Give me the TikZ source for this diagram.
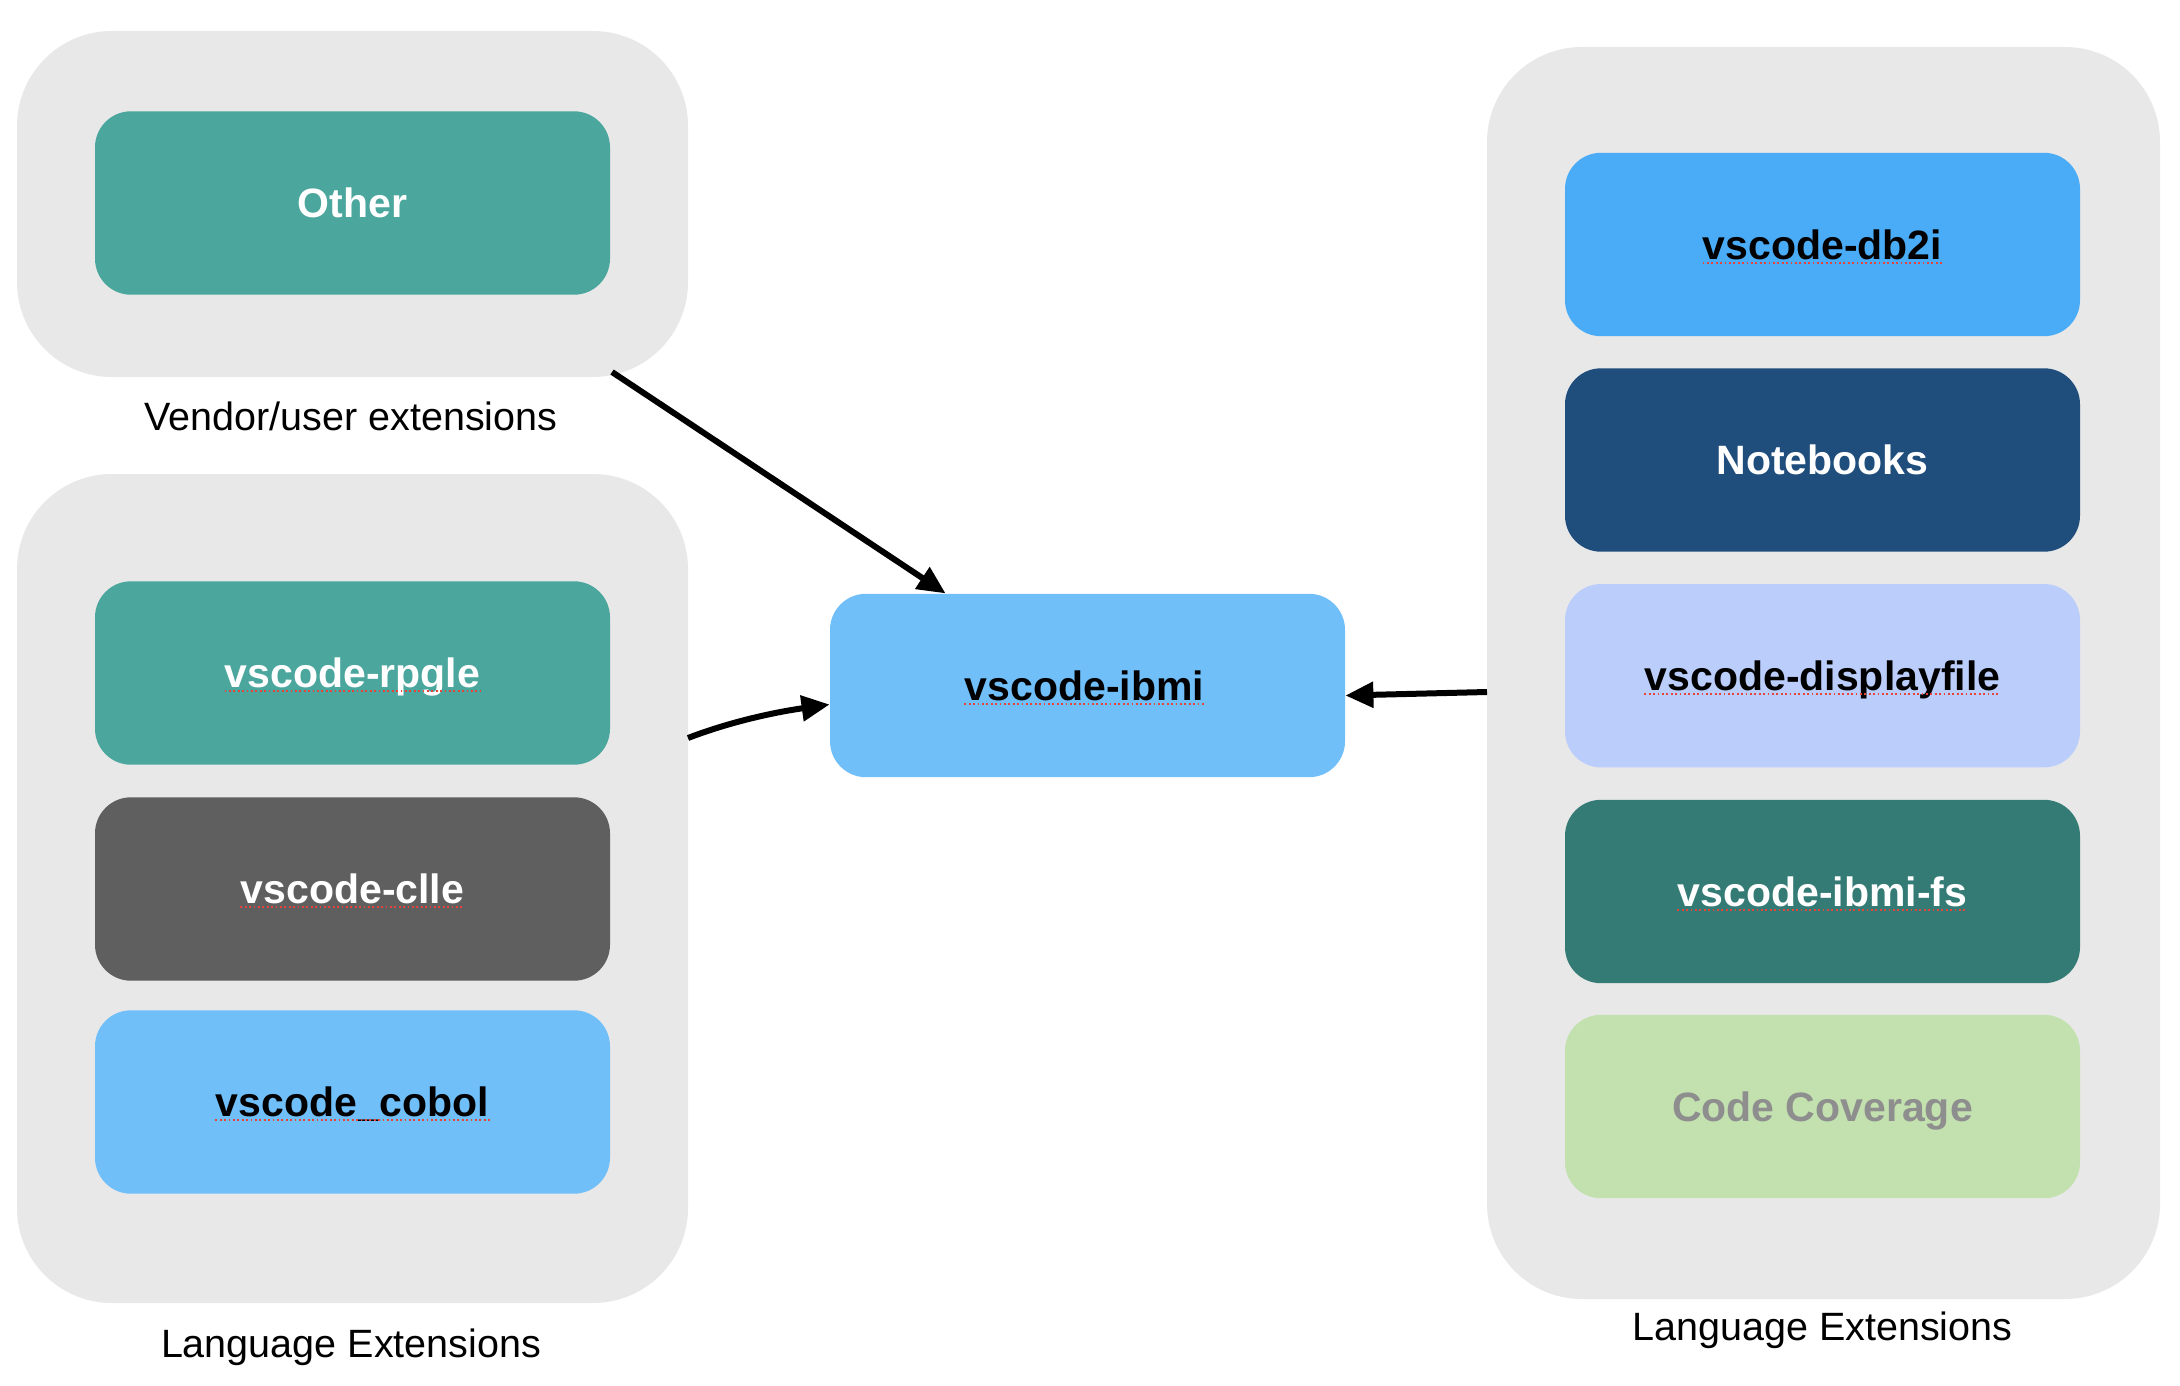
\documentclass[tikz,border=0pt]{standalone}
\usepackage{fontspec}
\setmainfont{Liberation Sans}
\usetikzlibrary{arrows.meta,calc}
\definecolor{grp}{HTML}{E8E8E8}
\definecolor{tealA}{HTML}{4BA69D}
\definecolor{darkgray}{HTML}{5F5F5F}
\definecolor{lightblue}{HTML}{71BFF9}
\definecolor{midblue}{HTML}{4AACF7}
\definecolor{navy}{HTML}{1F4D7C}
\definecolor{lavender}{HTML}{BBCEFB}
\definecolor{tealB}{HTML}{347B76}
\definecolor{lightgreen}{HTML}{C2E1AF}
\definecolor{ccgray}{HTML}{8E8E8E}
\definecolor{squigred}{HTML}{E8433A}
\begin{document}
\begin{tikzpicture}[x=0.5pt,y=-0.5pt,
  group/.style={draw=none,fill=grp,rounded corners=47.5pt,inner sep=0pt},
  box/.style={draw=none,rounded corners=18pt,inner sep=0pt,minimum width=257.5pt,minimum height=91.7pt},
  lbl/.style={inner sep=0pt,anchor=base,font=\fontsize{20.5pt}{24pt}\selectfont\bfseries},
  grpcaption/.style={inner sep=0pt,anchor=base,font=\fontsize{19.75pt}{24pt}\selectfont},
  squig/.style={draw=squigred,line width=0.9pt,dash pattern=on 0.9pt off 1.3pt},
  arr/.style={line width=3pt,-{Triangle[length=14pt,width=12.5pt]}}]
\useasboundingbox[fill=white] (0,0) rectangle (2180,1386);

% groups
\node[group,minimum width=335.5pt,minimum height=173pt] (grpTop) at (352.5,204) {};
\node[group,minimum width=335.5pt,minimum height=414.5pt] (grpLeft) at (352.5,888.5) {};
\node[group,minimum width=336.5pt,minimum height=626pt] (grpRight) at (1823.5,673) {};

% left boxes
\node[box,fill=tealA] (other) at (352.5,203) {};
\node[box,fill=tealA] (rpgle) at (352.5,673) {};
\node[box,fill=darkgray] (clle) at (352.5,889) {};
\node[box,fill=lightblue] (cobol) at (352.5,1102) {};
% centre box
\node[box,fill=lightblue] (ibmi) at (1087.5,685.5) {};
% right boxes
\node[box,fill=midblue] (db2i) at (1822.5,244.5) {};
\node[box,fill=navy] (notebooks) at (1822.5,460) {};
\node[box,fill=lavender] (displayfile) at (1822.5,675.7) {};
\node[box,fill=tealB] (ibmifs) at (1822.5,891.5) {};
\node[box,fill=lightgreen] (coverage) at (1822.5,1106.5) {};

% box labels
\node[lbl,text=white] (tOther) at ($(other.center)+(0,14.5)$) {Other};
\node[lbl,text=white] (tRpgle) at ($(rpgle.center)+(0,14.5)$) {vscode-rpgle};
\node[lbl,text=white] (tClle) at ($(clle.center)+(0,14.5)$) {vscode-clle};
\node[lbl,text=black] (tCobol) at ($(cobol.center)+(0,14.5)$) {vscode\_cobol};
\node[lbl,text=black] (tIbmi) at ($(ibmi.center)+(-3,14.5)$) {vscode-ibmi};
\node[lbl,text=black] (tDb2i) at ($(db2i.center)+(0,14.5)$) {vscode-db2i};
\node[lbl,text=white] (tNotebooks) at ($(notebooks.center)+(0,14.5)$) {Notebooks};
\node[lbl,text=black] (tDisplay) at ($(displayfile.center)+(0,14.5)$) {vscode-displayfile};
\node[lbl,text=white] (tIbmifs) at ($(ibmifs.center)+(0,14.5)$) {vscode-ibmi-fs};
\node[lbl,text=ccgray] (tCoverage) at ($(coverage.center)+(0,14.5)$) {Code Coverage};

% spell-check underlines
\foreach \t in {tRpgle,tClle,tCobol,tIbmi,tDb2i,tDisplay,tIbmifs}{
  \draw[squig] ([yshift=-1.8pt]\t.base west) -- ([yshift=-1.8pt]\t.base east);
}

% group captions
\node[grpcaption] (capTop) at (351,430) {Vendor/user extensions};
\node[grpcaption] (capLeft) at (351,1357) {Language Extensions};
\node[grpcaption] (capRight) at (1822.5,1340) {Language Extensions};

% connectors
\coordinate (s1) at (612,372);
\coordinate (s2) at (688,738);
\coordinate (s3) at (1487,692);
\draw[arr] (s1) -- ($(ibmi.north west)+(116,0)$);
\draw[arr] (s2) .. controls (740,718) and (790,710) .. ($(ibmi.west)+(0,19)$);
\draw[arr] (s3) -- ($(ibmi.east)+(0,10)$);
\end{tikzpicture}
\end{document}
